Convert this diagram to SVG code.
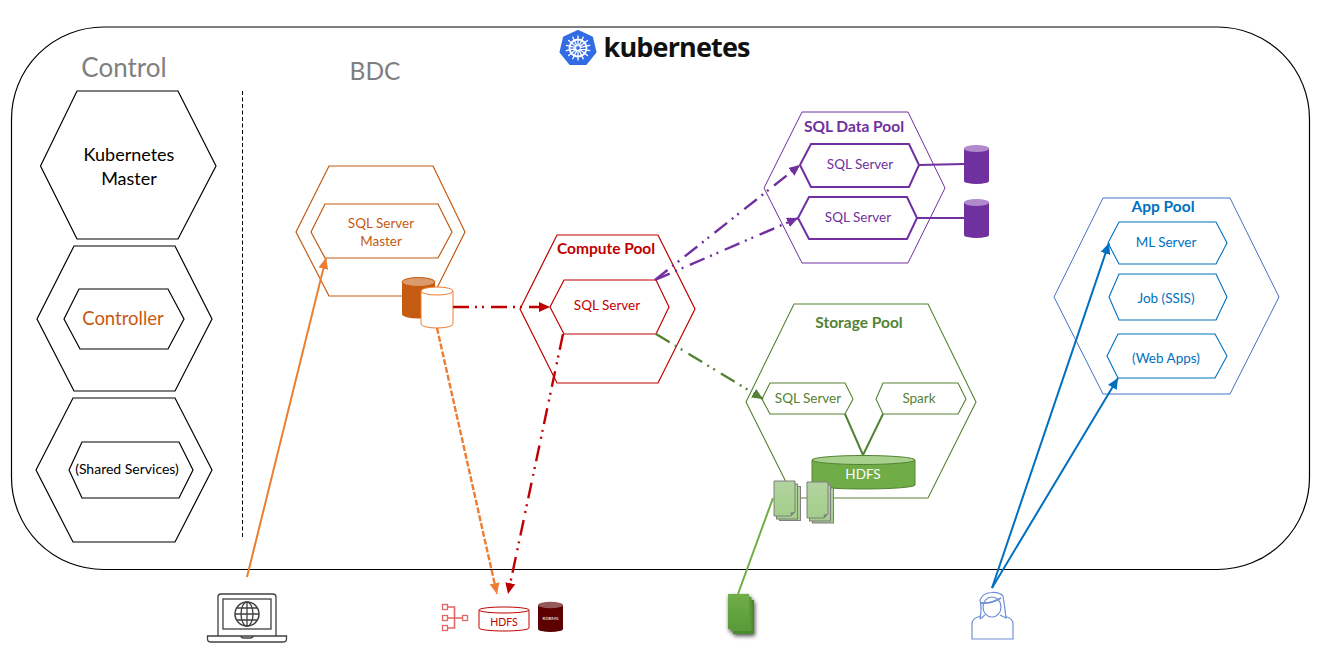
<svg xmlns="http://www.w3.org/2000/svg" width="1329" height="661" viewBox="0 0 1329 661">
<style>
text{font-family:"Lato","Carlito","Noto Sans","Liberation Sans",sans-serif;text-anchor:middle}
.hex{fill:none;stroke-linejoin:miter}
.k{stroke:#000;stroke-width:1.2}
.o{stroke:#C55A11;stroke-width:1.2}
.r{stroke:#C00000;stroke-width:1.2}
.p{stroke:#7030A0;stroke-width:1}
.g{stroke:#548235;stroke-width:1.1}
.b{stroke:#4472C4;stroke-width:1}
.bi{stroke:#0070C0;stroke-width:1.1}
.title{font-size:26px;fill:#7f7f7f}
.ko{fill:#C55A11}.kr{fill:#C00000}.kp{fill:#7030A0}.kg{fill:#548235}.kb{fill:#0070C0}
.pool{font-weight:700;font-size:15.5px}
.in{font-size:13.5px}
.c{fill:none;stroke-width:2}
.dd{stroke-width:2.4;stroke-dasharray:16 6 2 5 2 7}
.doc{fill:url(#docG);stroke:#7f7f7f;stroke-width:1}
.gdoc{fill:url(#gDocG)}
</style>
<defs>
<linearGradient id="docG" x1="0" y1="0" x2="0" y2="1"><stop offset="0" stop-color="#B2D3A0"/><stop offset="1" stop-color="#A4CE8B"/></linearGradient>
<linearGradient id="gDocG" x1="0" y1="0" x2="0" y2="1"><stop offset="0" stop-color="#6FAE47"/><stop offset="1" stop-color="#5A9A38"/></linearGradient>
<filter id="sh" x="-30%" y="-30%" width="170%" height="170%"><feDropShadow dx="1" dy="2" stdDeviation="2" flood-color="#000" flood-opacity="0.7"/></filter>
<marker id="aO" markerUnits="userSpaceOnUse" markerWidth="12" markerHeight="10" refX="11" refY="5" orient="auto"><path d="M0 0L11 5L0 10z" fill="#ED7D31"/></marker>
<marker id="aR" markerUnits="userSpaceOnUse" markerWidth="12" markerHeight="10" refX="11" refY="5" orient="auto"><path d="M0 0L11 5L0 10z" fill="#C00000"/></marker>
<marker id="aP" markerUnits="userSpaceOnUse" markerWidth="12" markerHeight="10" refX="11" refY="5" orient="auto"><path d="M0 0L11 5L0 10z" fill="#7030A0"/></marker>
<marker id="aG" markerUnits="userSpaceOnUse" markerWidth="12" markerHeight="10" refX="11" refY="5" orient="auto"><path d="M0 0L11 5L0 10z" fill="#548235"/></marker>
<marker id="aB" markerUnits="userSpaceOnUse" markerWidth="12" markerHeight="10" refX="11" refY="5" orient="auto"><path d="M0 0L11 5L0 10z" fill="#0070C0"/></marker>
</defs>
<rect width="1329" height="661" fill="#fff"/>
<g id="cluster"><rect x="11.5" y="27" width="1298" height="542.5" rx="92" ry="92" fill="#fff" stroke="#000" stroke-width="1.2"/></g>
<g id="kubernetes-logo">
<polygon points="578,31 592,37.500 595.500,52 585.800,64 570.200,64 560.500,52 564,37.500" fill="#326CE5" stroke="#326CE5" stroke-width="2" stroke-linejoin="round"/>
<g fill="none" stroke="#fff" stroke-linecap="round">
<circle cx="578" cy="48" r="8.500" stroke-width="1.800"/>
<path stroke-width="1.300" d="M578 36V60M568.600 40.500L587.400 55.500M566.300 50.700L589.700 45.300M572.800 58.800L583.200 37.200M583.200 58.800L572.800 37.200M589.700 50.700L566.300 45.300M587.400 40.500L568.600 55.500"/>
</g>
<circle cx="578" cy="48" r="2.400" fill="#326CE5" stroke="#fff" stroke-width="1"/>
<text x="677" y="57" style="font-family:'Open Sans','Noto Sans',sans-serif;font-weight:700;font-size:27px;fill:#111" textLength="147" lengthAdjust="spacing">kubernetes</text>
</g>
<g id="titles">
<text class="title" x="124" y="77">Control</text>
<text class="title" x="375" y="80" style="font-size:24.500px">BDC</text>
</g>
<g id="divider"><line x1="242.500" y1="91" x2="242.500" y2="537" stroke="#000" stroke-width="1" stroke-dasharray="4 2.500"/></g>
<g id="kubernetes-master">
<polygon class="hex k" points="40.500,166 77,91 178,91 216,166 178,239 77,239"/>
<text x="129" y="161" font-size="18" fill="#000">Kubernetes</text>
<text x="129" y="185" font-size="18" fill="#000">Master</text>
</g>
<g id="controller">
<polygon class="hex k" points="37,319 74,246 175,246 212,319 175,391 74,391"/>
<polygon class="hex k" points="64,319 79,289 168,289 184,319 168,349 80,349"/>
<text class="ko" x="123" y="325" font-size="18.500">Controller</text>
</g>
<g id="shared-services">
<polygon class="hex k" points="36,470 73,398 175,398 212,470 175,542 73,542"/>
<polygon class="hex k" points="69,470 82,442 179,442 193,470 179,498 82,498"/>
<text x="127" y="474" font-size="14" fill="#000">(Shared Services)</text>
</g>
<g id="sql-server-master">
<polygon class="hex o" points="296,232 329,166 433,166 465,232 433,296 329,296"/>
<polygon class="hex o" points="311,232 325,204 438,204 452,232 438,258 325,258"/>
<text class="ko in" x="381" y="228">SQL Server</text>
<text class="ko in" x="381" y="246">Master</text>
<path d="M402 282V314A16.500 4.500 0 0 0 435 314V282z" fill="#C55A11"/>
<ellipse cx="418.500" cy="282" rx="16.500" ry="4.500" fill="#DB9A6B" stroke="#C55A11"/>
<path d="M421 291V324A16 4 0 0 0 453 324V291z" fill="#fff" stroke="#ED7D31" stroke-width="1"/>
<ellipse cx="437" cy="291" rx="16" ry="4" fill="#fff" stroke="#ED7D31" stroke-width="1"/>
</g>
<g id="compute-pool">
<polygon class="hex r" points="520,309 557,235 658,235 695,309 658,383 557,383"/>
<polygon class="hex r" points="550,307 564,280 656,280 669,307 656,334 564,334"/>
<text class="kr pool" x="606" y="254">Compute Pool</text>
<text class="kr in" x="607" y="310">SQL Server</text>
</g>
<g id="sql-data-pool">
<polygon class="hex p" points="764,188 802,112 908,112 945,188 908,263 802,263"/>
<polygon class="hex p" style="stroke-width:2" points="800,165 811,144 909,144 919,165 909,187 811,187"/>
<polygon class="hex p" style="stroke-width:2" points="798,218 809,197 907,197 917,218 907,239 809,239"/>
<line x1="919" y1="165" x2="964" y2="164" stroke="#7030A0" stroke-width="2"/>
<line x1="917" y1="218" x2="964" y2="218" stroke="#7030A0" stroke-width="2"/>
<text class="kp pool" x="854" y="132">SQL Data Pool</text>
<text class="kp in" x="860" y="169">SQL Server</text>
<text class="kp in" x="858" y="222">SQL Server</text>
<path d="M964 148.500V181A12.500 3 0 0 0 989 181V148.500z" fill="#7030A0"/>
<ellipse cx="976.500" cy="148.500" rx="12.500" ry="3.500" fill="#B08ACB"/>
<path d="M964 202.500V235A12.500 3 0 0 0 989 235V202.500z" fill="#7030A0"/>
<ellipse cx="976.500" cy="202.500" rx="12.500" ry="3.500" fill="#B08ACB"/>
</g>
<g id="storage-pool">
<polygon class="hex g" points="746,402 794,304 928,304 976,402 928,498 794,498"/>
<polygon class="hex g" points="762,399 770,383 845,383 853,399 845,414 770,414"/>
<polygon class="hex g" points="876,399 883,383 958,383 966,399 958,414 883,414"/>
<path d="M845 414L863 455L883 414" fill="none" stroke="#548235" stroke-width="2"/>
<text class="kg pool" x="859" y="328">Storage Pool</text>
<text class="kg in" x="808" y="403">SQL Server</text>
<text class="kg in" x="919" y="403">Spark</text>
<path d="M812 460V485A51.500 4 0 0 0 915 485V460z" fill="#70AD47" stroke="#548235" stroke-width="1"/>
<ellipse cx="863.500" cy="460" rx="51.500" ry="4.500" fill="#A9D18E" stroke="#548235" stroke-width="1"/>
<text x="863" y="479" font-size="13.500" fill="#fff">HDFS</text>
<g id="data-files-1">
<rect class="doc" x="779.500" y="486.500" width="21" height="34"/>
<rect class="doc" x="776.500" y="484" width="21" height="35"/>
<path class="doc" d="M774 481H795V512L791 516H774z"/>
<path d="M795 512L791 516L790.500 512.500z" fill="#7f7f7f"/>
</g>
<g id="data-files-2">
<rect class="doc" x="812.500" y="488" width="21" height="35"/>
<rect class="doc" x="809.500" y="485" width="21" height="36"/>
<path class="doc" d="M807 482H828V514L824 518H807z"/>
<path d="M828 514L824 518L823.500 514.500z" fill="#7f7f7f"/>
</g>
</g>
<g id="app-pool">
<polygon class="hex b" points="1054,297 1103,198 1230,198 1279,297 1230,394 1103,394"/>
<polygon class="hex bi" points="1108,243 1119,222 1216,222 1227,243 1216,264 1119,264"/>
<polygon class="hex bi" points="1109,297 1119,274 1216,274 1227,297 1216,320 1119,320"/>
<polygon class="hex bi" points="1107,356 1118,334 1215,334 1227,356 1215,378 1118,378"/>
<text class="kb pool" x="1163" y="212">App Pool</text>
<text class="kb in" x="1166" y="247">ML Server</text>
<text class="kb in" x="1166" y="303">Job (SSIS)</text>
<text class="kb in" x="1166" y="363">(Web Apps)</text>
</g>
<g id="laptop" fill="none" stroke="#404040" stroke-width="1.300">
<path d="M218 636V597Q218 594 221 594H273Q276 594 276 597V636"/>
<rect x="223" y="599" width="48" height="30"/>
<path d="M207.500 636H286.500V639Q286.500 642 283 642H211Q207.500 642 207.500 639z" fill="#fff"/>
<path d="M241 636Q241 638 244 638H250Q253 638 253 636"/>
<circle cx="247" cy="614" r="12" stroke-width="1.500"/>
<ellipse cx="247" cy="614" rx="6" ry="12"/>
<path d="M247 602V626M235 614H259M237 608H257M237 620H257"/>
</g>
<g id="external-sources">
<g id="org-icon" fill="none" stroke="#E06666" stroke-width="1.300">
<rect x="442.500" y="604.500" width="5" height="5"/>
<rect x="442.500" y="615.500" width="5" height="5"/>
<rect x="442.500" y="625.500" width="5" height="5"/>
<rect x="462.500" y="615.500" width="5" height="5"/>
<path d="M447.500 607H454.500V628H447.500M447.500 618H462.500" stroke-width="1.600"/>
</g>
<g id="hdfs-external">
<path d="M479 610V628A25 3 0 0 0 529 628V610" fill="#fff" stroke="#C00000" stroke-width="1"/>
<ellipse cx="504" cy="610" rx="25" ry="3" fill="#fff" stroke="#C00000" stroke-width="1"/>
<text class="kr" x="504" y="626" font-size="10.500">HDFS</text>
</g>
<g id="rdbms">
<path d="M538 605V629A12.500 3 0 0 0 563 629V605z" fill="#5C0000"/>
<ellipse cx="550.500" cy="605" rx="12.500" ry="3.200" fill="#96595B"/>
<text x="550.500" y="620" font-size="4.500" fill="#fff">RDBMS</text>
</g>
</g>
<g id="data-files-external" filter="url(#sh)">
<rect x="733" y="600" width="21" height="34" fill="#4E8A2E"/>
<rect x="730.500" y="597" width="21" height="34" fill="#5C9A3A"/>
<path class="gdoc" d="M728 594H749V625L745 629H728z"/>
</g>
<g id="user" fill="#fff" stroke="#6E8FD6" stroke-width="1.200">
<path d="M972 639V624Q972 619 978 617L985 614H1001L1007 617Q1013 619 1013 624V639z"/>
<path d="M980 619Q982 608 980 600Q983 592.500 992 592.500Q999 592 1003 596Q1005 608 1006 618L1000 615M985 615L980 619" fill="#fff"/>
<ellipse cx="992" cy="607" rx="9" ry="10"/>
<path d="M981 603Q991 604 1001 598" stroke-width="1.800" fill="none"/>
</g>
<g id="connectors">
<line class="c" x1="247" y1="577" x2="326" y2="258" stroke="#ED7D31" marker-end="url(#aO)"/>
<line class="c" x1="437" y1="328" x2="497" y2="594" stroke="#ED7D31" stroke-width="2.400" style="stroke-width:2.400" stroke-dasharray="6 2" marker-end="url(#aO)"/>
<line class="c dd" x1="563" y1="334" x2="508" y2="594" stroke="#C00000" marker-end="url(#aR)"/>
<line class="c dd" x1="453" y1="307" x2="550" y2="307" stroke="#C00000" marker-end="url(#aR)"/>
<line class="c dd" x1="655" y1="280" x2="800" y2="165" stroke="#7030A0" marker-end="url(#aP)"/>
<line class="c dd" x1="655" y1="280" x2="798" y2="218" stroke="#7030A0" marker-end="url(#aP)"/>
<line class="c dd" x1="656" y1="334" x2="763" y2="399" stroke="#548235" marker-end="url(#aG)"/>
<line class="c" x1="773" y1="498" x2="738" y2="594" stroke="#70AD47"/>
<line class="c" x1="992" y1="588" x2="1109" y2="243" stroke="#0070C0" marker-end="url(#aB)"/>
<line class="c" x1="992" y1="588" x2="1118" y2="378" stroke="#0070C0" marker-end="url(#aB)"/>
</g>
</svg>
